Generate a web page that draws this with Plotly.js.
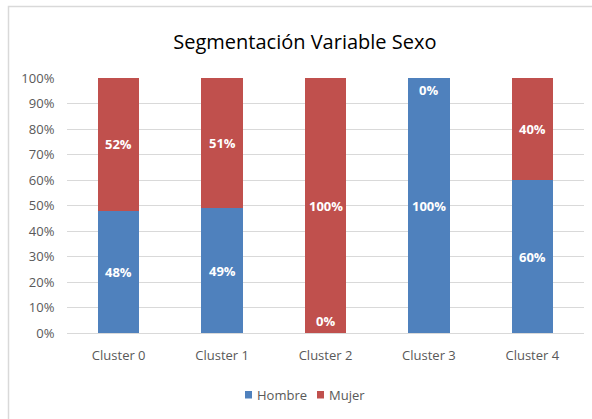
<!DOCTYPE html>
<html><head><meta charset="utf-8">
<script src="https://cdn.plot.ly/plotly-3.0.1.min.js"></script>
<style>html,body{margin:0;padding:0;background:#fff}#chart{width:592px;height:419px}</style>
</head><body><div id="chart"></div>
<script>
const categories = ["Cluster 0", "Cluster 1", "Cluster 2", "Cluster 3", "Cluster 4"];
const hombre = [48, 49, 0, 100, 60];
const mujer = [52, 51, 100, 0, 40];
const seriesNames = ["Hombre", "Mujer"];
const colors = ["#4F81BD", "#C0504D"];
const font = "Open Sans, Noto Sans, sans-serif";

const annotations = [];
categories.forEach((c, i) => {
  const h = hombre[i], m = mujer[i];
  annotations.push({
    x: c, y: h === 0 ? 0 : h / 2, yshift: h === 0 ? 12 : 0,
    text: h + "%", showarrow: false,
    font: {family: font, size: 13, color: "#fff", weight: "bold"}
  });
  annotations.push({
    x: c, y: m === 0 ? h : h + m / 2, yshift: m === 0 ? -12 : 0,
    text: m + "%", showarrow: false,
    font: {family: font, size: 13, color: "#fff", weight: "bold"}
  });
});

// custom compact legend (pixel positions converted to paper coords)
const L = 67, W = 517, B = 333, H = 255;
const px = v => (v - L) / W, py = v => (B - v) / H;
const legendX = [245, 317];
const shapes = [{type: "path", xref: "paper", yref: "paper",
            path: "M " + px(8.5) + "," + py(430) + " L " + px(8.5) + "," + py(6.5) + " L " + px(600) + "," + py(6.5),
            line: {color: "#D9D9D9", width: 1.5}}];
seriesNames.forEach((n, k) => {
  shapes.push({type: "rect", xref: "paper", yref: "paper", x0: px(legendX[k]), x1: px(legendX[k] + 7),
               y0: py(391), y1: py(398.5), line: {width: 0}, fillcolor: colors[k]});
  annotations.push({xref: "paper", yref: "paper", x: px(legendX[k] + 10), xanchor: "left",
                    y: py(395), yanchor: "middle", text: n, showarrow: false,
                    font: {family: font, size: 13, color: "#595959"}});
});

const traces = [hombre, mujer].map((vals, k) => ({
  type: "bar", name: seriesNames[k], x: categories, y: vals,
  marker: {color: colors[k]}, width: 0.4, hoverinfo: "none"
}));

const layout = {
  width: 592, height: 419,
  barmode: "stack", showlegend: false,
  paper_bgcolor: "#fff", plot_bgcolor: "#fff",
  margin: {l: 67, r: 8, t: 78, b: 86},
  title: {text: "Segmentación Variable Sexo", x: 0.515, xanchor: "center", y: 0.9, yanchor: "middle",
          font: {family: font, size: 20, color: "#000"}},
  xaxis: {tickfont: {family: font, size: 13, color: "#595959"}, showline: true, linecolor: "#D9D9D9",
          linewidth: 1, ticks: "outside", ticklen: 10, tickcolor: "rgba(0,0,0,0)", fixedrange: true},
  yaxis: {range: [0, 100], dtick: 10, ticksuffix: "%", tickfont: {family: font, size: 13, color: "#595959"},
          gridcolor: "#D9D9D9", gridwidth: 1, zeroline: false, ticks: "outside", ticklen: 9, tickcolor: "rgba(0,0,0,0)", fixedrange: true},
  annotations: annotations,
  shapes: shapes
};
Plotly.newPlot("chart", traces, layout, {displayModeBar: false, staticPlot: true});
</script></body></html>
